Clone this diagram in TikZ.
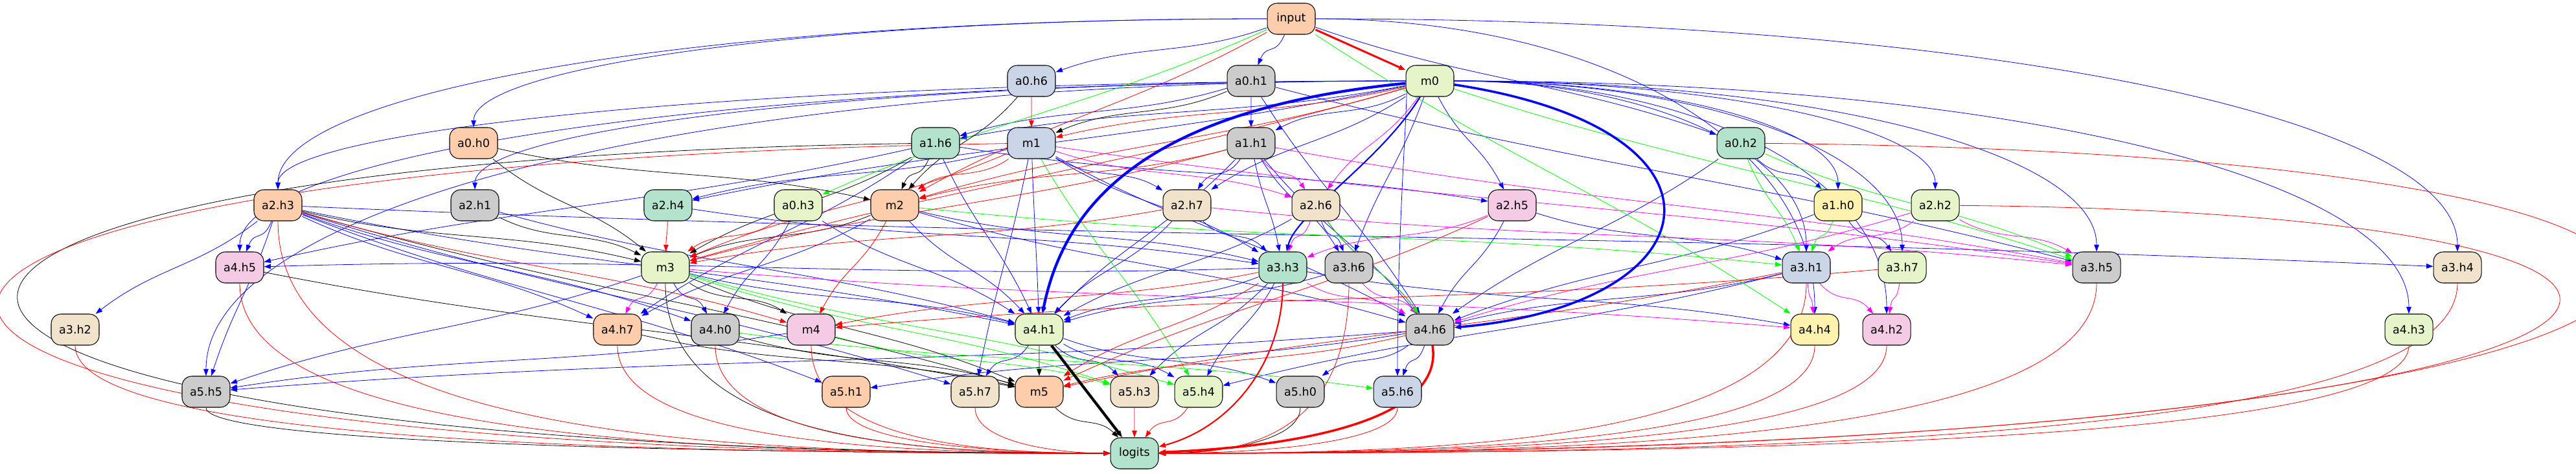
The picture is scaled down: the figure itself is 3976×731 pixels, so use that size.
\documentclass[tikz,border=0pt]{standalone}
\usepackage{fontspec}
\setmainfont{DejaVu Sans}
\usetikzlibrary{arrows.meta,calc,backgrounds}
\definecolor{pgreen}{HTML}{B3E2CD}
\definecolor{porange}{HTML}{FDCDAC}
\definecolor{pblue}{HTML}{CBD5E8}
\definecolor{ppink}{HTML}{F4CAE4}
\definecolor{plime}{HTML}{E6F5C9}
\definecolor{pyellow}{HTML}{FFF2AE}
\definecolor{pbeige}{HTML}{F1E2CC}
\definecolor{pgray}{HTML}{CCCCCC}
\definecolor{egreen}{HTML}{00FF00}
\definecolor{eblue}{HTML}{0000FF}
\definecolor{ered}{HTML}{FF0000}
\definecolor{emag}{HTML}{FF00FF}
\def\ebend{20}
\tikzset{
  box/.style={draw=black, line width=0.6pt, rounded corners=0.3cm, minimum width=1.48cm, minimum height=0.96cm, inner sep=0pt, font=\fontsize{10}{12}\selectfont},
  edge/.style={-{Triangle[length=0.21cm,width=0.15cm]}, line width=0.45pt},
}
\begin{document}
\begin{tikzpicture}[x=0.02cm,y=-0.02cm]
\useasboundingbox (0,0) rectangle (3976,731);

% Nodes
\foreach \n/\l/\f/\x/\y in {input/input/porange/1993/29, m0/m0/plime/2207/125, a0h6/a0.h6/pblue/1592/125, a0h1/a0.h1/pgray/1931/125,
  a0h0/a0.h0/porange/731/221, a1h6/a1.h6/pgreen/1444/221, m1/m1/pblue/1592/221, a1h1/a1.h1/pgray/1931/221, a0h2/a0.h2/pgreen/2687/221,
  a2h3/a2.h3/porange/429/317, a2h1/a2.h1/pgray/733/317, a2h4/a2.h4/pgreen/1031/317, a0h3/a0.h3/plime/1232/317, m2/m2/porange/1381/317,
  a2h7/a2.h7/pbeige/1832/317, a2h6/a2.h6/pbeige/2031/317, a2h5/a2.h5/ppink/2334/317, a1h0/a1.h0/pyellow/2837/317, a2h2/a2.h2/plime/2987/317,
  a4h5/a4.h5/ppink/370/413, m3/m3/plime/1027/413, a3h3/a3.h3/pgreen/1980/413, a3h6/a3.h6/pgray/2082/413, a3h1/a3.h1/pblue/2788/413,
  a3h7/a3.h7/plime/2936/413, a3h5/a3.h5/pgray/3236/413, a3h4/a3.h4/pbeige/3793/413,
  a3h2/a3.h2/pbeige/116/509, a4h7/a4.h7/porange/953/509, a4h0/a4.h0/pgray/1104/509, m4/m4/ppink/1252/509, a4h1/a4.h1/plime/1604/509,
  a4h6/a4.h6/pgray/2207/509, a4h4/a4.h4/pyellow/2801/509, a4h2/a4.h2/ppink/2912/509, a4h3/a4.h3/plime/3718/509,
  a5h5/a5.h5/pgray/318/605, a5h1/a5.h1/porange/1306/605, a5h7/a5.h7/pbeige/1505/605, m5/m5/porange/1604/605, a5h3/a5.h3/pbeige/1751/605,
  a5h4/a5.h4/plime/1850/605, a5h0/a5.h0/pgray/2007/605, a5h6/a5.h6/pblue/2157/605, logits/logits/pgreen/1751/700} {
    \node[box,fill=\f] (\n) at (\x,\y) {\l};
}

\begin{scope}[on background layer]
% Blue edges
\foreach \s/\t in {input/a0h6, input/a0h1, input/a0h2,
  a0h1/a1h6, a0h1/a1h1, m0/a1h1, m0/a1h6, a0h2/a1h0,
  m1/a2h4, m0/a2h4, m0/a2h7, m1/a2h7, a1h1/a2h7, m0/a2h5, a1h6/a2h5,
  a2h3/a4h5, a2h3/a3h2, a2h3/a5h5, a2h3/a3h4, a1h6/a4h5, a3h3/a4h5,
  a2h3/a4h7, a1h6/a4h7, m2/a4h7, m3/a4h0, a2h3/a4h0, a0h3/a4h0,
  m1/a3h3, a2h7/a3h3, m2/a3h3, a1h1/a3h3, a2h4/a3h3,
  m0/a3h6, a2h6/a3h6, a1h1/a3h6, a2h5/a3h1, a1h0/a3h7, a0h1/a3h5,
  m1/a4h1, a1h6/a4h1, a2h7/a4h1, m2/a4h1, a0h3/a4h1, a3h3/a4h1, a2h3/a4h1, m3/a4h1, a3h6/a4h1, a1h1/a4h1, a2h6/a4h1, a2h1/a4h1,
  a1h1/a4h6, m1/a4h6, a2h6/a4h6, a0h2/a4h6, a1h0/a4h6, a2h5/a4h6, m2/a4h6, a3h1/a4h6, a0h1/a4h6, a3h3/a4h4,
  a4h1/a5h7, a4h1/a5h3, a4h1/a5h4, a4h1/a5h0, a4h6/a5h0, a4h6/a5h6, a3h3/a5h3, a3h3/a5h4, a4h6/a5h1, a2h3/a5h1,
  m4/a5h5, m3/a5h5, a4h6/a5h5, a2h3/a5h7, m1/a5h7, a3h1/a5h4} {
    \draw[edge,eblue] (\s) .. controls ($(\s)!0.4!(\t)+(0,\ebend)$) and ($(\s)!0.6!(\t)-(0,\ebend)$) .. (\t);
}
% Long blue edges, out sideways and in from above
\foreach \s/\t in {input/a0h0, input/a2h3, input/a3h4, input/a4h4, m0/a2h3, m0/a2h1, m0/a5h5, m0/a4h5,
  m0/a1h0, m0/a2h2, m0/a3h1, m0/a3h7, m0/a3h5, m0/a4h2, m0/a4h3, m0/a5h6} {
    \draw[edge,eblue] (\s) .. controls ($(\s)!0.6!(\t |- \s)$) and ($(\t)!0.6!(\t |- \s)$) .. (\t);
}
% Magenta edges
\foreach \s/\t in {m0/a2h6, a1h1/a2h6, m1/a2h6, m3/a4h7, m3/a4h4, a2h5/a3h3, a3h3/a4h6, a3h6/a4h6, a2h6/a4h6,
  a3h1/a4h4, a3h1/a4h2, a3h7/a4h2, a2h2/a3h1, a2h2/a4h6, a2h2/a3h5, a2h7/a3h5, a1h1/a3h5, m1/a3h5, a2h6/a3h3} {
    \draw[edge,emag] (\s) .. controls ($(\s)!0.4!(\t)+(0,\ebend)$) and ($(\s)!0.6!(\t)-(0,\ebend)$) .. (\t);
}
% Green edges
\foreach \s/\t in {input/a0h3, input/a4h4, m1/a5h4, m2/a3h1, m3/a5h3, m3/a5h4, a0h2/a3h1, a1h0/a3h1, a0h2/a3h5,
  a4h0/a5h6, m0/a3h5, m4/a5h3, a2h6/a4h6} {
    \draw[edge,egreen] (\s) .. controls ($(\s)!0.4!(\t)+(0,\ebend)$) and ($(\s)!0.6!(\t)-(0,\ebend)$) .. (\t);
}
% Black edges
\foreach \s/\t in {a0h1/m1, a0h0/m2, a0h6/m2, a1h6/m2, a0h0/m3, a2h1/m3, a2h3/m3, a1h6/m3, m2/m3, m3/m4,
  a2h3/m5, a4h7/m5, a4h0/m5, a4h1/m5, m3/m5, a4h5/m5, m5/logits} {
    \draw[edge,black] (\s) .. controls ($(\s)!0.4!(\t)+(0,\ebend)$) and ($(\s)!0.6!(\t)-(0,\ebend)$) .. (\t);
}
% Red edges
\foreach \s/\t in {input/m2, a0h6/m1, m0/m1, m1/m2, a1h1/m2, m0/m2, a2h4/m3, a0h3/m3, m1/m3, a1h1/m3, a2h7/m3, m0/m3,
  a2h3/m4, a3h3/m4, m2/m4, a3h3/m5, a4h6/m5, a3h1/m5, a3h7/m4, a2h5/m5, a5h3/logits, a5h4/logits} {
    \draw[edge,ered] (\s) .. controls ($(\s)!0.4!(\t)+(0,\ebend)$) and ($(\s)!0.6!(\t)-(0,\ebend)$) .. (\t);
}
% Edges into logits, down and then along the bottom
\foreach \s/\c in {a5h5/black, a5h0/black, m3/black,
  a3h2/ered, a4h5/ered, a2h3/ered, a4h7/ered, a4h0/ered, m4/ered, a5h1/ered, a5h7/ered,
  a5h6/ered, a3h6/ered, a3h5/ered, a4h4/ered, a4h2/ered, a4h3/ered, a3h4/ered, a3h1/ered} {
    \draw[edge,\c] (\s) .. controls ($(\s |- logits)+(0,-15)$) and ($(logits)!0.45!(\s |- logits)$) .. (logits);
}
% Round the outside
\draw[edge,black] (a1h6) .. controls (-480,250) and (-480,700) .. (logits);
\draw[edge,ered] (m1) .. controls (-548,255) and (-548,710) .. (logits);
\draw[edge,ered] (a0h2) .. controls (4700,240) and (4500,705) .. (logits);
\draw[edge,ered] (a2h2) .. controls (4500,330) and (4300,700) .. (logits);
% Heavy edges
\draw[edge,ered,line width=1.7pt] (input) -- (m0);
\draw[edge,eblue,line width=2.4pt] (m0) .. controls (1750,170) and (1640,330) .. (a4h1);
\draw[edge,eblue,line width=2pt] (m0) .. controls (2700,200) and (2650,470) .. (a4h6);
\draw[edge,eblue,line width=1.2pt] (m0) .. controls (2130,250) and (2000,330) .. (a3h3);
\draw[edge,black,line width=2.4pt] (a4h1) -- (logits);
\draw[edge,ered,line width=2pt] (a4h6) .. controls (2230,650) and (2000,690) .. (logits);
\draw[edge,ered,line width=1.2pt] (a3h3) .. controls (1980,560) and (1900,660) .. (logits);
\end{scope}
\end{tikzpicture}
\end{document}
